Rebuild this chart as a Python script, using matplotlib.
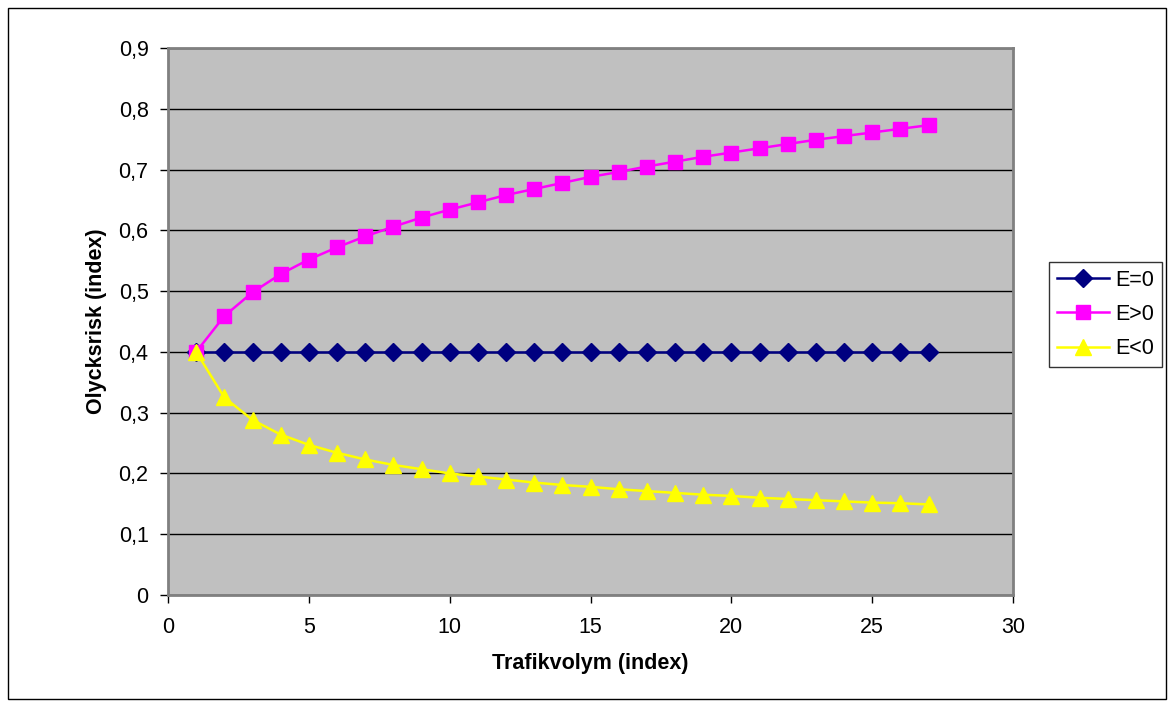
import matplotlib
matplotlib.use("Agg")
import matplotlib.pyplot as plt
from matplotlib.patches import Rectangle

plt.rcParams['font.family'] = ['Liberation Sans', 'DejaVu Sans']

# Trafikvolym (index)
volym = list(range(1, 28))

# Olycksrisk (index) per elasticitet
e_noll = [0.400] * 27
e_pos = [0.400, 0.459, 0.498, 0.528, 0.552, 0.572, 0.590, 0.606, 0.621,
         0.634, 0.646, 0.658, 0.668, 0.678, 0.688, 0.696, 0.705, 0.713,
         0.721, 0.728, 0.735, 0.742, 0.749, 0.755, 0.761, 0.767, 0.773]
e_neg = [0.400, 0.325, 0.288, 0.264, 0.247, 0.234, 0.223, 0.214, 0.207,
         0.200, 0.195, 0.190, 0.185, 0.181, 0.178, 0.174, 0.171, 0.168,
         0.165, 0.163, 0.160, 0.158, 0.156, 0.154, 0.152, 0.151, 0.149]

x_ticks = [0, 5, 10, 15, 20, 25, 30]
y_ticks = [0, 0.1, 0.2, 0.3, 0.4, 0.5, 0.6, 0.7, 0.8, 0.9]
y_labels = ["0", "0,1", "0,2", "0,3", "0,4", "0,5", "0,6", "0,7", "0,8", "0,9"]

fig = plt.figure(figsize=(11.75, 7.07), dpi=100)
ax = fig.add_axes([168 / 1175, 1 - 595 / 707, (1013 - 168) / 1175, (595 - 48) / 707])
ax.set_facecolor('#c0c0c0')

# outer chart frame
fig.patches.append(Rectangle((8 / 1175, 1 - 699 / 707), 1158 / 1175, 691 / 707,
                             transform=fig.transFigure, fill=False,
                             edgecolor='black', linewidth=1.0))

ax.set_xlim(0, 30)
ax.set_ylim(0, 0.9)
ax.set_xticks(x_ticks)
ax.set_xticklabels([str(t) for t in x_ticks])
ax.set_yticks(y_ticks)
ax.set_yticklabels(y_labels)
ax.yaxis.grid(True, color='black', linewidth=1.0)
ax.set_axisbelow(True)

for side in ('top', 'right', 'left', 'bottom'):
    ax.spines[side].set_color('#808080')
    ax.spines[side].set_linewidth(2)

ax.tick_params(axis='both', direction='out', length=6, width=1, color='black',
               labelsize=15.5)
ax.tick_params(axis='x', pad=10)
ax.tick_params(axis='y', pad=8)

ax.plot(volym, e_noll, color='#000080', marker='D', markersize=9, linewidth=1.8,
        label='E=0', zorder=3)
ax.plot(volym, e_pos, color='#ff00ff', marker='s', markersize=10.5, linewidth=1.8,
        label='E>0', zorder=4)
ax.plot(volym, e_neg, color='#ffff00', marker='^', markersize=11.5, linewidth=1.8,
        label='E<0', zorder=5)

ax.set_xlabel('Trafikvolym (index)', fontsize=15.5, fontweight='bold', labelpad=11)
ax.set_ylabel('Olycksrisk (index)', fontsize=15.5, fontweight='bold', labelpad=8)

leg = ax.legend(loc='center left', bbox_to_anchor=(1049 / 1175, 1 - 314.5 / 707),
                bbox_transform=fig.transFigure, frameon=True, fancybox=False,
                edgecolor='black', fontsize=15.5, handlelength=2.45,
                borderpad=0.35, labelspacing=0.62, handletextpad=0.3,
                borderaxespad=0)
leg.get_frame().set_linewidth(1.0)

fig.savefig('out.png', dpi=100)
